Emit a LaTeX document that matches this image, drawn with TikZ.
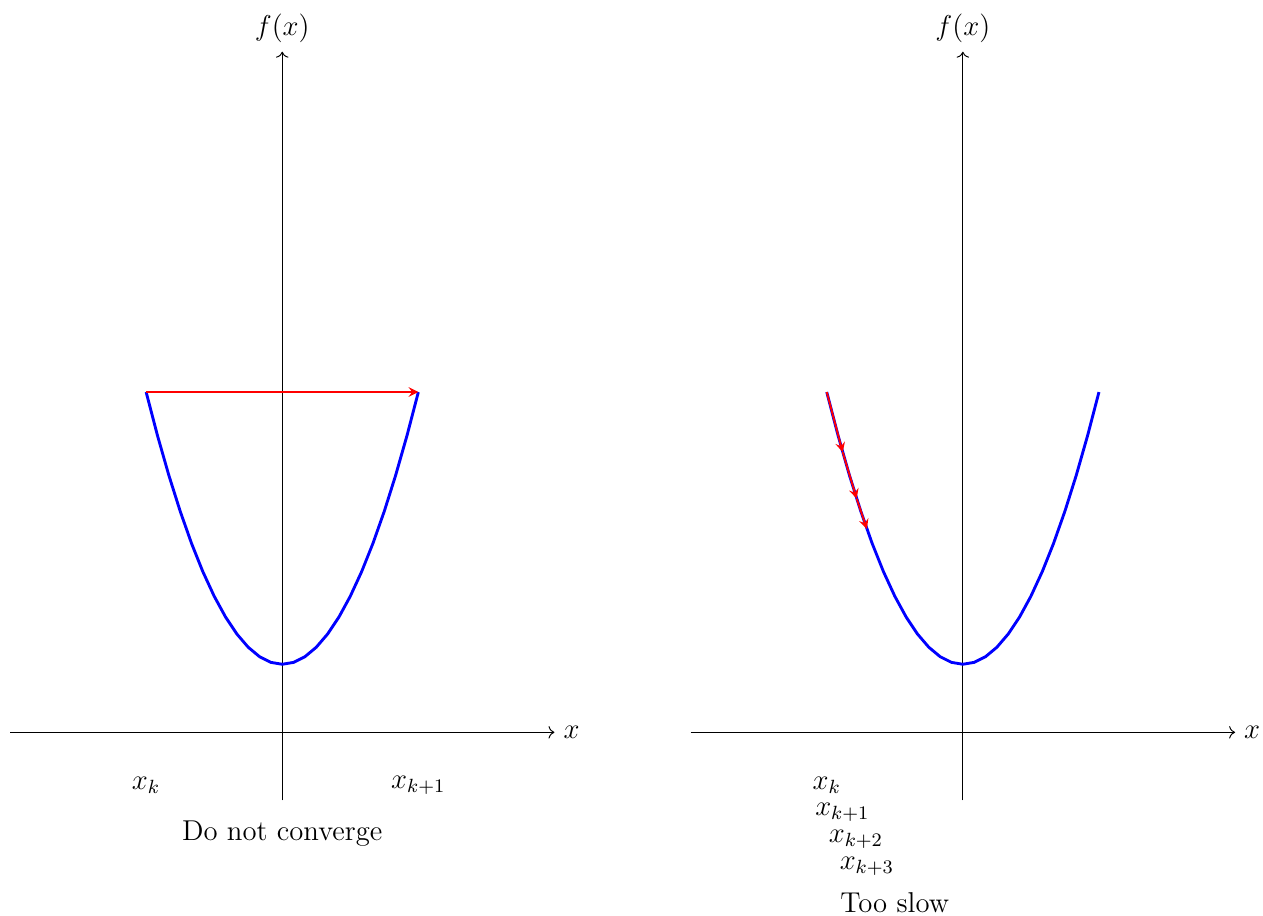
\documentclass[tikz,border=0pt]{standalone}
\usetikzlibrary{arrows.meta}
\begin{document}
\begin{tikzpicture}[x=1cm,y=1cm,
  axis/.style={->,line width=0.4pt},
  curve/.style={blue,line width=1.2pt},
  jump/.style={red,line width=0.8pt,-stealth},
  lbl/.style={font=\large,inner sep=0pt}]
\useasboundingbox (-4.147,-2.69) rectangle (14.41,10.76);
% left plot
\draw[axis] (-4,0) -- (4,0) coordinate (lxe);
\draw[axis] (0,-1) -- (0,10) coordinate (lye);
\node[lbl] (lx) at (4.25,0) {$x$};
\node[lbl] (ly) at (0,10.35) {$f(x)$};
\draw[curve] plot[domain=-2:2,samples=25] (\x,{\x*\x+1});
\coordinate (la) at (-2,5);
\coordinate (lb) at (2,5);
\draw[jump] (la) -- (lb);
\node[lbl] (lk) at (-2,-0.78) {$x_k$};
\node[lbl] (lk1) at (2,-0.78) {$x_{k+1}$};
\node[lbl] (lt) at (0,-1.49) {Do not converge};
% right plot
\begin{scope}[xshift=10cm]
\draw[axis] (-4,0) -- (4,0) coordinate (rxe);
\draw[axis] (0,-1) -- (0,10) coordinate (rye);
\node[lbl] (rx) at (4.25,0) {$x$};
\node[lbl] (ry) at (0,10.35) {$f(x)$};
\draw[curve] plot[domain=-2:2,samples=25] (\x,{\x*\x+1});
\coordinate (p0) at (-2,5);
\coordinate (p1) at (-1.765,{1.765*1.765+1});
\coordinate (p2) at (-1.56,{1.56*1.56+1});
\coordinate (p3) at (-1.41,{1.41*1.41+1});
\draw[jump] (p0) -- (p1);
\draw[jump] (p1) -- (p2);
\draw[jump] (p2) -- (p3);
\node[lbl] (rk) at (-2,-0.78) {$x_k$};
\node[lbl] (rk1) at (-1.77,-1.18) {$x_{k+1}$};
\node[lbl] (rk2) at (-1.57,-1.57) {$x_{k+2}$};
\node[lbl] (rk3) at (-1.41,-1.97) {$x_{k+3}$};
\node[lbl] (rt) at (-1.0,-2.5) {Too slow};
\end{scope}
\end{tikzpicture}
\end{document}
